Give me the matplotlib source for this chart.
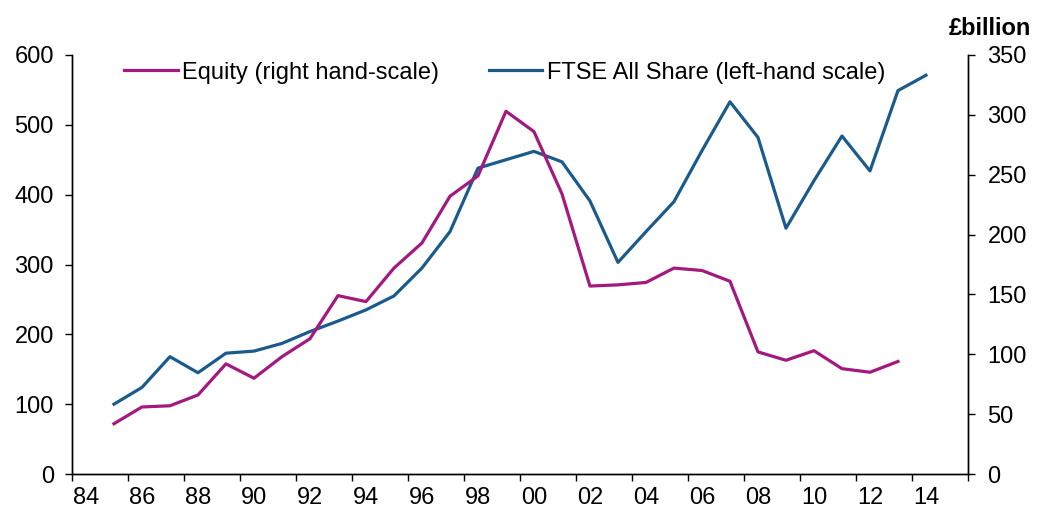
import matplotlib.pyplot as plt
import numpy as np

plt.rcParams['font.family'] = ['Liberation Sans', 'DejaVu Sans']
plt.rcParams['font.size'] = 17

years = list(range(1985, 2015))  # 1985..2014
ftse = [100, 124, 168, 145, 173, 176, 187, 204, 219, 235, 255, 295, 347, 438, 450,
        462, 447, 391, 303, 347, 390, 463, 533, 482, 352, 420, 484, 434, 549, 571]
equity_years = list(range(1985, 2014))  # 1985..2013
equity = [42, 56, 57, 66, 92, 80, 98, 113, 149, 144, 172, 193, 232, 249, 303,
          286, 234, 157, 158, 160, 172, 170, 161, 102, 95, 103, 88, 85, 94]
tick_labels = ['84', '86', '88', '90', '92', '94', '96', '98', '00', '02', '04',
               '06', '08', '10', '12', '14']

blue = '#1b5b8c'
magenta = '#a3197f'

fig = plt.figure(figsize=(10.46, 5.13), dpi=100)
ax = fig.add_axes([0.0688, 0.076, 0.8566, 0.8168])
ax2 = ax.twinx()

l1, = ax2.plot(equity_years, equity, color=magenta, lw=2.3, label='Equity (right hand-scale)')
l2, = ax.plot(years, ftse, color=blue, lw=2.3, label='FTSE All Share (left-hand scale)')

ax.set_xlim(1983.5, 2015.5)
ax.set_ylim(0, 600)
ax2.set_ylim(0, 350)
ax.set_yticks(range(0, 601, 100))
ax2.set_yticks(range(0, 351, 50))

# tick marks at category edges, labels at category centres
ax.set_xticks(np.arange(1983.5, 2016, 2))
ax.set_xticklabels([])
ax.set_xticks(np.arange(1984, 2015, 2), minor=True)
ax.set_xticklabels(tick_labels, minor=True)
ax.tick_params(axis='x', which='major', direction='out', length=5, width=1)
ax.tick_params(axis='x', which='minor', length=0, pad=9)
ax.tick_params(axis='y', direction='out', length=5, width=1, pad=8)
ax2.tick_params(axis='y', direction='out', length=5, width=1, pad=9)

for a in (ax, ax2):
    a.spines['top'].set_visible(False)
    for s in ('left', 'right', 'bottom'):
        a.spines[s].set_linewidth(1)

fig.text(0.946, 0.945, '£billion', fontweight='bold', ha='center', va='center', fontsize=17)

ax.legend([l1, l2], [l1.get_label(), l2.get_label()], loc='upper center',
          bbox_to_anchor=(0.483, 1.035), ncol=2, frameon=False, handlelength=2.25,
          handletextpad=0.2, columnspacing=2.1, fontsize=17)

plt.savefig('out.png', dpi=100)
plt.close()
